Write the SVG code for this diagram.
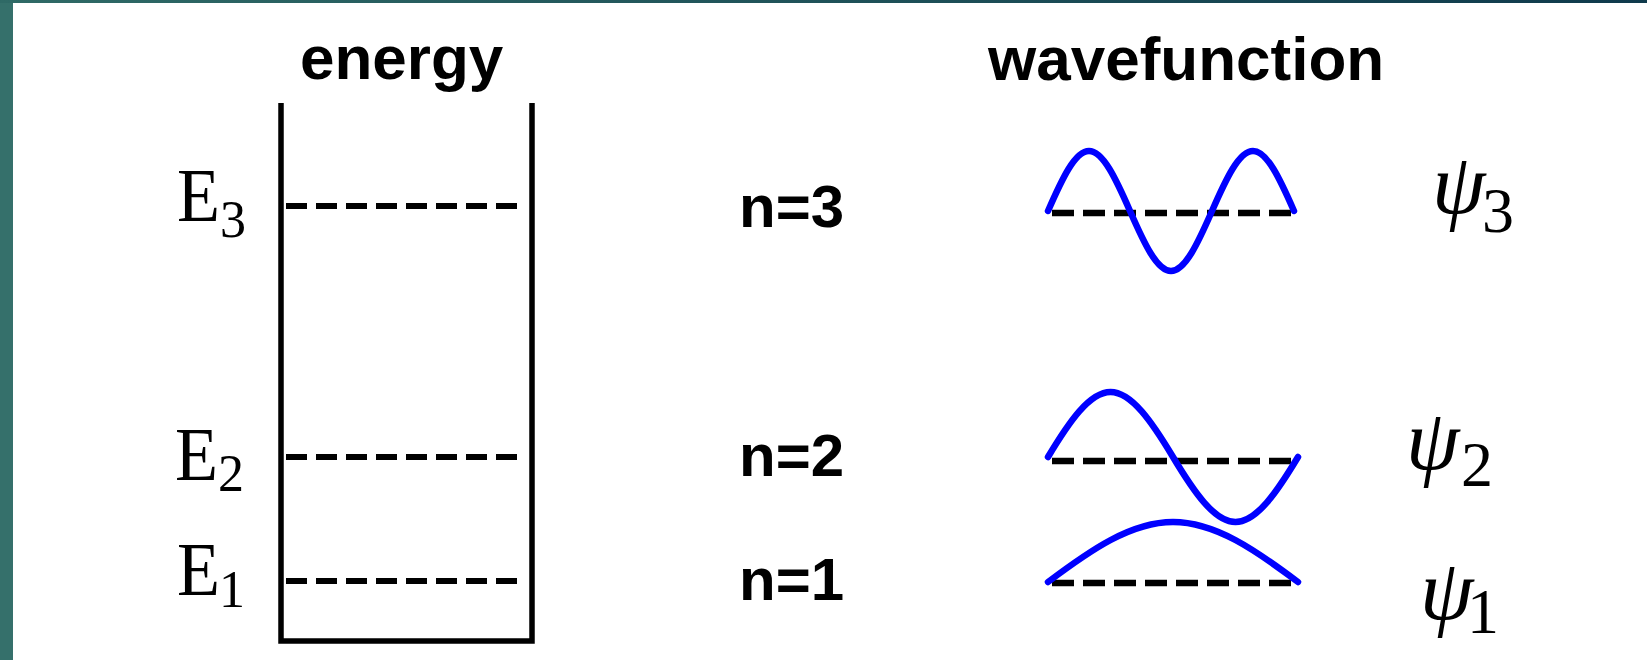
<svg xmlns="http://www.w3.org/2000/svg" width="1647" height="660" viewBox="0 0 1647 660">
  <defs>
    <linearGradient id="topbar" x1="0" y1="0" x2="1" y2="0">
      <stop offset="0" stop-color="#2f6a66"/>
      <stop offset="1" stop-color="#0f3a4c"/>
    </linearGradient>
  </defs>
  <style>
    .title { font-family: "Liberation Sans", Arial, sans-serif; font-weight: bold; font-size: 62px; fill: #000; }
    .nlab { font-family: "Liberation Sans", Arial, sans-serif; font-weight: bold; font-size: 60px; fill: #000; }
    .elab { font-family: "Liberation Serif", "Times New Roman", serif; font-size: 76px; fill: #000; }
    .esub { font-family: "Liberation Serif", "Times New Roman", serif; font-size: 52px; fill: #000; }
    .psi { font-family: "Liberation Serif", "Times New Roman", serif; font-style: italic; font-size: 86px; fill: #000; }
    .psub { font-family: "Liberation Serif", "Times New Roman", serif; font-size: 64px; fill: #000; }
    .well { fill: none; stroke: #000; stroke-width: 5.5; }
    .level { stroke: #000; stroke-width: 6; stroke-dasharray: 21 9; fill: none; }
    .axis { stroke: #000; stroke-width: 6.5; stroke-dasharray: 22 9; fill: none; }
    .wave { fill: none; stroke: #0000ff; stroke-width: 6.5; stroke-linecap: round; stroke-linejoin: round; }
  </style>

  <rect x="0" y="0" width="1647" height="660" fill="#ffffff"/>
  <rect x="0" y="0" width="13" height="660" fill="#35706b"/>
  <rect x="0" y="0" width="1647" height="3" fill="url(#topbar)"/>

  <g id="energy-title"><text class="title" x="300" y="79">energy</text></g>
  <g id="wavefunction-title"><text class="title" x="988" y="80">wavefunction</text></g>

  <g id="well">
    <path class="well" d="M281,103 V641 H532 V103"/>
  </g>

  <g id="levels">
    <line class="level" x1="286" y1="206" x2="524" y2="206"/>
    <line class="level" x1="286" y1="457" x2="526" y2="457"/>
    <line class="level" x1="286" y1="581" x2="526" y2="581"/>
  </g>

  <g id="E3"><text class="elab" x="177" y="221" textLength="43" lengthAdjust="spacingAndGlyphs">E</text><text class="esub" x="220" y="237">3</text></g>
  <g id="E2"><text class="elab" x="175" y="480" textLength="43" lengthAdjust="spacingAndGlyphs">E</text><text class="esub" x="218" y="491">2</text></g>
  <g id="E1"><text class="elab" x="177" y="595" textLength="43" lengthAdjust="spacingAndGlyphs">E</text><text class="esub" x="219" y="607">1</text></g>

  <g id="n3"><text class="nlab" x="739" y="227">n=3</text></g>
  <g id="n2"><text class="nlab" x="739" y="476">n=2</text></g>
  <g id="n1"><text class="nlab" x="739" y="600">n=1</text></g>

  <g id="wave3">
    <line class="axis" x1="1052" y1="213" x2="1294" y2="213"/>
    <path class="wave" d="M1048,211 C1062,179 1075,151 1089,151 S1116,179 1130,211 S1157,271 1171,271 S1198,243 1212,211 S1239,151 1253,151 S1280,179 1294,211"/>
  </g>
  <g id="wave2">
    <line class="axis" x1="1052" y1="461" x2="1294" y2="461"/>
    <path class="wave" d="M1048,457 C1069,422 1089.5,392 1110.5,392 S1152,422 1173,457 S1214.5,522 1235.5,522 S1277,492 1298,457"/>
  </g>
  <g id="wave1">
    <line class="axis" x1="1052" y1="583" x2="1294" y2="583"/>
    <path class="wave" d="M1048,582 C1090.5,550 1131,522 1173,522 S1255.5,550 1298,582"/>
  </g>

  <g id="psi3"><text class="psi" x="1432" y="213">ψ</text><text class="psub" x="1482" y="232">3</text></g>
  <g id="psi2"><text class="psi" x="1406" y="469">ψ</text><text class="psub" x="1461" y="486">2</text></g>
  <g id="psi1"><text class="psi" x="1420" y="619">ψ</text><text class="psub" x="1467" y="633">1</text></g>
</svg>
